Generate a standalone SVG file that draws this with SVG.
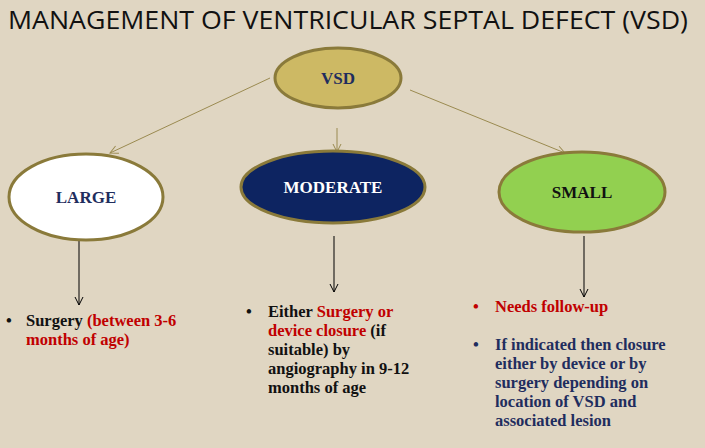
<svg xmlns="http://www.w3.org/2000/svg" width="705" height="448" viewBox="0 0 705 448" xml:space="preserve">
<defs>
<marker id="ah" markerWidth="10" markerHeight="10" refX="9" refY="5" orient="auto" markerUnits="userSpaceOnUse"><path d="M1,1 L9,5 L1,9" fill="none" stroke="#9a8a50" stroke-width="1"/></marker>
<marker id="ak" markerWidth="10" markerHeight="10" refX="9" refY="5" orient="auto" markerUnits="userSpaceOnUse"><path d="M1,1 L9,5 L1,9" fill="none" stroke="#000" stroke-width="1"/></marker>
</defs>
<style>
.n{stroke:#8a7a3a;stroke-width:3}
.l{font-family:"Liberation Serif",serif;font-weight:bold;font-size:17px;text-anchor:middle}
.t{font-family:"Liberation Serif",serif;font-weight:bold;font-size:16.5px}
.r{fill:#c00000}.k{fill:#111}.b{fill:#1f2d5e}
</style>
<rect width="705" height="448" fill="#e0d6c2"/>
<text x="8" y="29" font-family="'Open Sans','Liberation Sans',sans-serif" font-size="26" fill="#111" textLength="680" lengthAdjust="spacingAndGlyphs">MANAGEMENT OF VENTRICULAR SEPTAL DEFECT (VSD)</text>
<g id="connectors" fill="none">
<g stroke="#9a8a50" stroke-width="1" marker-end="url(#ah)">
<line x1="270" y1="78" x2="110" y2="153"/>
<line x1="337" y1="128" x2="337" y2="152"/>
<line x1="410" y1="90" x2="565" y2="153"/>
</g>
<g stroke="#000" stroke-width="1" marker-end="url(#ak)">
<line x1="79" y1="238" x2="79" y2="305"/>
<line x1="334" y1="236" x2="334" y2="292"/>
<line x1="584" y1="236" x2="584" y2="297"/>
</g>
</g>
<g id="vsd"><ellipse cx="338" cy="78" rx="63" ry="30" fill="#cdb964" class="n"/><text x="338" y="84" class="l" fill="#1f2d5e">VSD</text></g>
<g id="large"><ellipse cx="86" cy="197" rx="77" ry="43" fill="#fff" class="n"/><text x="86" y="203" class="l" fill="#1f2d5e">LARGE</text></g>
<g id="moderate"><ellipse cx="333" cy="187" rx="92" ry="36" fill="#0d2461" class="n"/><text x="333" y="193" class="l" fill="#fff">MODERATE</text></g>
<g id="small"><ellipse cx="582" cy="192" rx="83" ry="40" fill="#92d050" class="n"/><text x="582" y="198" class="l" fill="#111">SMALL</text></g>
<g id="large-text" class="t">
<text x="6" y="326" class="k">•</text>
<text x="26" y="326"><tspan class="k">Surgery </tspan><tspan class="r">(between   3-6</tspan></text>
<text x="26" y="345" class="r">months of age)</text>
</g>
<g id="moderate-text" class="t">
<text x="246" y="317" class="k">•</text>
<text x="268" y="317"><tspan class="k">Either </tspan><tspan class="r">Surgery or</tspan></text>
<text x="268" y="336"><tspan class="r">device closure  </tspan><tspan class="k">(if</tspan></text>
<text x="268" y="355" class="k">suitable) by</text>
<text x="268" y="374" class="k">angiography in 9-12</text>
<text x="268" y="393" class="k">months of age</text>
</g>
<g id="small-text" class="t">
<text x="473" y="312" class="r">•</text>
<text x="495" y="312" class="r">Needs follow-up</text>
<text x="473" y="350" class="b">•</text>
<text x="495" y="350" class="b">If indicated then closure</text>
<text x="495" y="369" class="b">either by device or by</text>
<text x="495" y="388" class="b">surgery depending on</text>
<text x="495" y="407" class="b">location of VSD and</text>
<text x="495" y="426" class="b">associated lesion</text>
</g>
</svg>
